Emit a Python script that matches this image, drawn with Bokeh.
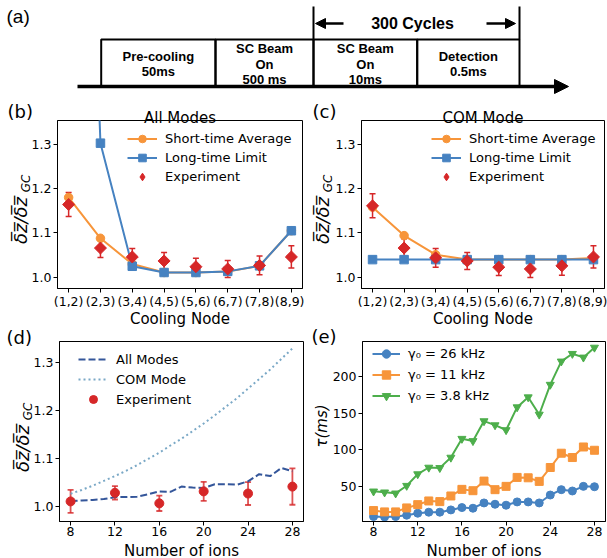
import math
from bokeh.plotting import figure
from bokeh.layouts import column, row
from bokeh.models import (Range1d, FixedTicker, PrintfTickFormatter, Legend, LegendItem,
                          Whisker, TeeHead, ColumnDataSource, Arrow, NormalHead, GridBox, Spacer)
from bokeh.core.properties import value
from bokeh.embed import file_html
from bokeh.resources import INLINE

# ------------------------------------------------------------------ data
stage_names = ["Pre-cooling", "SC Beam\nOn", "SC Beam\nOn", "Detection"]
stage_times = ["50ms", "500 ms", "10ms", "0.5ms"]
cycles_label = "300 Cycles"

nodes = ["(1,2)", "(2,3)", "(3,4)", "(4,5)", "(5,6)", "(6,7)", "(7,8)", "(8,9)"]
b_short = [1.180, 1.088, 1.030, 1.011, 1.011, 1.013, 1.026, 1.105]
b_long = [3.20, 1.302, 1.025, 1.011, 1.011, 1.0135, 1.026, 1.105]
b_exp = [1.164, 1.066, 1.046, 1.037, 1.024, 1.019, 1.027, 1.046]
b_err = [0.027, 0.021, 0.019, 0.019, 0.019, 0.019, 0.021, 0.025]

c_short = [1.158, 1.094, 1.051, 1.040, 1.040, 1.040, 1.040, 1.0435]
c_long = [1.040, 1.040, 1.040, 1.040, 1.040, 1.040, 1.040, 1.040]
c_exp = [1.161, 1.066, 1.044, 1.037, 1.023, 1.019, 1.026, 1.046]
c_err = [0.027, 0.021, 0.021, 0.019, 0.019, 0.019, 0.021, 0.025]

ions = [8, 9, 10, 11, 12, 13, 14, 15, 16, 17, 18, 19, 20, 21, 22, 23, 24, 25, 26, 27, 28]
d_all = [1.011, 1.012, 1.013, 1.015, 1.019, 1.019, 1.020, 1.025, 1.031, 1.030, 1.041,
         1.039, 1.038, 1.046, 1.046, 1.045, 1.052, 1.067, 1.063, 1.080, 1.073]
d_com = [1.026, 1.034, 1.043, 1.053, 1.063, 1.074, 1.086, 1.099, 1.112, 1.127, 1.141,
         1.157, 1.173, 1.190, 1.208, 1.226, 1.246, 1.266, 1.286, 1.308, 1.330]
d_exp_ions = [8, 12, 16, 20, 24, 28]
d_exp = [1.010, 1.028, 1.006, 1.031, 1.0265, 1.041]
d_err = [0.024, 0.014, 0.016, 0.020, 0.024, 0.038]

e_26 = [8.9, 8.4, 8.9, 10.7, 13.4, 14.8, 14.8, 17.9, 21.1, 20.2, 27.4, 25.6, 24.3,
        28.8, 28.8, 27.4, 38.2, 45.5, 43.7, 50.0, 49.5]
e_11 = [17.0, 15.2, 15.2, 20.6, 25.1, 30.1, 29.2, 36.9, 45.9, 44.1, 57.2, 45.5, 50.0,
        62.2, 61.7, 56.8, 75.7, 95.2, 89.3, 103.7, 99.2]
e_38 = [43.2, 41.9, 40.5, 50.9, 66.7, 75.7, 75.2, 89.3, 115.0, 111.9, 139.0, 133.5,
        126.8, 158.0, 171.6, 148.0, 188.7, 220.4, 230.8, 225.8, 239.3]
e_labels = ["γ₀ = 26 kHz", "γ₀ = 11 kHz", "γ₀ = 3.8 kHz"]

# ------------------------------------------------------------------ style
FONT = "DejaVu Sans"
RED = "#d62728"
ORANGE = "#f7953a"
BLUE = "#4682c1"
GREEN = "#4dae4b"
DBLUE = "#34569a"
LBLUE = "#7aa8c6"
YLAB = "δ\u0305z\u0305/δ\u0305z\u0305"
NAN = float("nan")


def base_fig(w, h, xr, yr, l, r, t, b):
    p = figure(width=w, height=h, x_range=Range1d(*xr), y_range=Range1d(*yr),
               output_backend="svg", toolbar_location=None, title=None,
               min_border_left=l, min_border_right=r, min_border_top=t, min_border_bottom=b)
    p.xgrid.visible = False
    p.ygrid.visible = False
    p.outline_line_color = "black"
    p.outline_line_alpha = 1.0
    p.outline_line_width = 1
    p.background_fill_color = "white"
    p.border_fill_color = "white"
    for ax in p.axis:
        ax.axis_line_color = "black"
        ax.major_tick_line_color = "black"
        ax.major_tick_out = 4
        ax.major_tick_in = 0
        ax.minor_tick_line_color = None
        ax.major_label_text_font = FONT
        ax.major_label_text_font_size = "12.5px"
        ax.major_label_text_color = "black"
    p.xaxis.major_label_standoff = 1
    p.yaxis.major_label_standoff = 2
    return p


def legend(p, items, loc, pitch, gw=30):
    lg = Legend(items=items, location=loc, padding=0, margin=0, spacing=0,
                glyph_width=gw, glyph_height=pitch, label_height=pitch, label_standoff=8,
                border_line_color=None, background_fill_alpha=0,
                label_text_font=FONT, label_text_font_size="13px", label_text_color="black")
    p.add_layout(lg)


def errorbars(p, xs, ys, errs, color, width=1.5, alpha=1.0, cap=6):
    src = ColumnDataSource(dict(x=xs, y=ys,
                                lo=[v - e for v, e in zip(ys, errs)],
                                up=[v + e for v, e in zip(ys, errs)]))
    p.add_layout(Whisker(source=src, base="x", lower="lo", upper="up",
                         line_color=color, line_width=width, line_alpha=alpha,
                         upper_head=TeeHead(size=cap, line_color=color, line_width=width, line_alpha=alpha),
                         lower_head=TeeHead(size=cap, line_color=color, line_width=width, line_alpha=alpha)))
    return src


# ------------------------------------------------------------------ overlay: (a) diagram + all free texts
ov = figure(width=607, height=558, x_range=Range1d(0, 607), y_range=Range1d(558, 0),
            output_backend="svg", toolbar_location=None, title=None, min_border=0,
            x_axis_type=None, y_axis_type=None)
ov.outline_line_color = None
ov.grid.visible = False
ov.background_fill_color = None
ov.border_fill_color = None

box_edges = [100.7, 215, 313, 416.7, 519]
box_top, box_bottom = 39, 86
ov.quad(left=box_edges[:-1], right=box_edges[1:], top=box_top, bottom=box_bottom,
        fill_color=None, line_color="black", line_width=2)
ov.add_layout(Arrow(x_start=77, y_start=box_bottom, x_end=568, y_end=box_bottom,
                    line_width=3.5, line_color="black",
                    end=NormalHead(size=14, fill_color="black", line_color="black")))
ov.segment(x0=[box_edges[2], box_edges[4]], y0=[6, 6], x1=[box_edges[2], box_edges[4]],
           y1=[box_top, box_top], line_color="black", line_width=2)
ov.add_layout(Arrow(x_start=343, y_start=23, x_end=315, y_end=23, line_width=2.5,
                    end=NormalHead(size=10, fill_color="black", line_color="black")))
ov.add_layout(Arrow(x_start=486, y_start=23, x_end=515, y_end=23, line_width=2.5,
                    end=NormalHead(size=10, fill_color="black", line_color="black")))
tx, ty, tt = [], [], []
for i, (s, t) in enumerate(zip(stage_names, stage_times)):
    lines = s.split("\n") + [t]
    cx = (box_edges[i] + box_edges[i + 1]) / 2
    n = len(lines)
    for j, ln in enumerate(lines):
        tx.append(cx)
        ty.append(63.5 + (j - (n - 1) / 2) * 15.5)
        tt.append(ln)
ov.text(x=tx, y=ty, text=tt, text_font=value("Liberation Sans"), text_font_style="bold",
        text_font_size="13px", text_align="center", text_baseline="middle", text_color="black")
ov.text(x=[412], y=[23], text=[cycles_label], text_font=value("Liberation Sans"),
        text_font_style="bold", text_font_size="16px", text_align="center",
        text_baseline="middle", text_color="black")
ov.text(x=[6], y=[16], text=["(a)"], text_font=value("Liberation Sans"), text_font_size="19px",
        text_align="left", text_baseline="middle", text_color="black")


def otext(x, y, txt, size, align="center", baseline="middle", angle=0.0, style="normal"):
    ov.text(x=[x], y=[y], text=[txt], angle=angle, text_font=value(FONT), text_font_size=size,
            text_align=align, text_baseline=baseline, text_font_style=style, text_color="black")


# panel tags
otext(7, 110.5, "(b)", "18px", align="left")
otext(312, 111, "(c)", "18px", align="left")
otext(6, 337, "(d)", "18px", align="left")
otext(311, 335.5, "(e)", "18px", align="left")
# titles
otext(179.5, 117, "All Modes", "15px", baseline="alphabetic")
otext(482.5, 117, "COM Mode", "15px", baseline="alphabetic")
# x axis titles
otext(179.5, 318, "Cooling Node", "15px", baseline="alphabetic")
otext(482.5, 318, "Cooling Node", "15px", baseline="alphabetic")
otext(181, 550, "Number of ions", "15px", baseline="alphabetic")
otext(483.5, 550, "Number of ions", "15px", baseline="alphabetic")
# y axis titles
for (mx, my, gx, gy) in [(20, 220, 25, 183), (322, 220, 327, 183), (22, 448, 27, 411)]:
    otext(mx, my, YLAB, "18px", angle=math.pi / 2, style="italic")
    otext(gx, gy, "GC", "12px", angle=math.pi / 2, style="italic")
otext(321.5, 425.5, "τ(ms)", "15px", angle=math.pi / 2, style="italic")


# ------------------------------------------------------------------ (b), (c)
def node_panel(short, long_, exp, err, w, l, r):
    p = base_fig(w, 202, (-0.35, 7.35), (0.975, 1.353), l, r, 0, 34)
    xs = list(range(len(nodes)))
    p.xaxis.ticker = FixedTicker(ticks=xs)
    p.xaxis.major_label_overrides = {i: n for i, n in enumerate(nodes)}
    p.yaxis.ticker = FixedTicker(ticks=[1.0, 1.1, 1.2, 1.3])
    p.yaxis.formatter = PrintfTickFormatter(format="%.1f")
    r1 = p.line(xs, short, line_color=ORANGE, line_width=2)
    r1m = p.scatter(xs, short, marker="circle", size=8.5, fill_color=ORANGE, line_color=ORANGE)
    r2 = p.line(xs, long_, line_color=BLUE, line_width=2)
    r2m = p.scatter(xs, long_, marker="square", size=8.5, fill_color=BLUE, line_color=BLUE)
    src = errorbars(p, xs, exp, err, RED)
    p.scatter("x", "y", source=src, marker="square", angle=math.pi / 4, size=8.5,
              fill_color=RED, line_color=RED)
    r3 = p.scatter([NAN], [NAN], marker="diamond", size=12, fill_color=RED, line_color=RED)
    legend(p, [LegendItem(label="Short-time Average", renderers=[r1, r1m]),
               LegendItem(label="Long-time Limit", renderers=[r2, r2m]),
               LegendItem(label="Experiment", renderers=[r3])], (70, 102), 19)
    return p


pb = node_panel(b_short, b_long, b_exp, b_err, 304, 57, 2)
pc = node_panel(c_short, c_long, c_exp, c_err, 303, 57, 3)

# ------------------------------------------------------------------ (d)
pd = base_fig(304, 236, (7, 29), (0.968, 1.3445), 59, 1, 19, 37)
pd.xaxis.ticker = FixedTicker(ticks=[8, 12, 16, 20, 24, 28])
pd.yaxis.ticker = FixedTicker(ticks=[1.0, 1.1, 1.2, 1.3])
pd.yaxis.formatter = PrintfTickFormatter(format="%.1f")
rd1 = pd.line(ions, d_all, line_color=DBLUE, line_width=2, line_dash="7 3")
rd2 = pd.line(ions, d_com, line_color=LBLUE, line_width=2, line_dash="2 3")
srcd = errorbars(pd, d_exp_ions, d_exp, d_err, RED, width=1.8, alpha=0.8, cap=6)
rd3 = pd.scatter("x", "y", source=srcd, marker="circle", size=9, fill_color=RED, line_color=RED)
legend(pd, [LegendItem(label="All Modes", renderers=[rd1]),
            LegendItem(label="COM Mode", renderers=[rd2]),
            LegendItem(label="Experiment", renderers=[rd3])], (19, 112), 20)

# ------------------------------------------------------------------ (e)
pe = base_fig(303, 236, (7, 29), (2.1, 247.5), 58, 2, 19, 37)
pe.xaxis.ticker = FixedTicker(ticks=[8, 12, 16, 20, 24, 28])
pe.yaxis.ticker = FixedTicker(ticks=[50, 100, 150, 200])
items = []
for ys, col, mk, lbl in zip([e_26, e_11, e_38], [BLUE, ORANGE, GREEN],
                            ["circle", "square", "inverted_triangle"], e_labels):
    rl = pe.line(ions, ys, line_color=col, line_width=2)
    rm = pe.scatter(ions, ys, marker=mk, size=8, fill_color=col, line_color=col)
    items.append(LegendItem(label=lbl, renderers=[rl, rm]))
legend(pe, items, (10, 115), 21, gw=28)

content = column(Spacer(width=607, height=120), row(pb, pc), row(pd, pe))
grid = GridBox(children=[(content, 0, 0), (ov, 0, 0)], spacing=0)
open("out.html", "w").write(file_html(grid, INLINE, title="chart"))
